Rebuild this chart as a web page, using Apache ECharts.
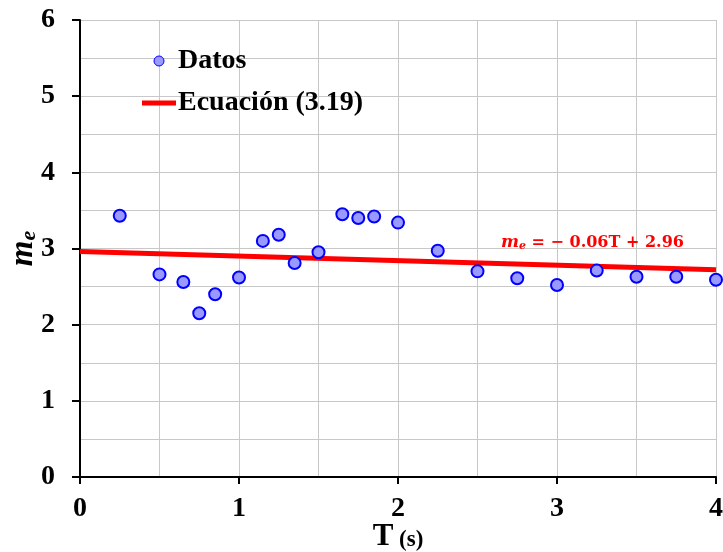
<!DOCTYPE html>
<html>
<head>
<meta charset="utf-8">
<script src="https://cdn.jsdelivr.net/npm/echarts@6/dist/echarts.min.js"></script>
<style>html,body{margin:0;padding:0;background:#fff}#c{width:723px;height:552px}</style>
</head>
<body>
<div id="c"></div>
<script>
var periodT = [0.25,0.5,0.65,0.75,0.85,1.0,1.15,1.25,1.35,1.5,1.65,1.75,1.85,2.0,2.25,2.5,2.75,3.0,3.25,3.5,3.75,4.0];
var meValues = [3.43,2.66,2.56,2.15,2.40,2.62,3.10,3.18,2.81,2.95,3.45,3.40,3.42,3.34,2.97,2.70,2.61,2.52,2.71,2.63,2.63,2.59];
var fitSlope = -0.06;
var fitIntercept = 2.96;
var fitT = [0, 4];
var xTicks = [0,1,2,3,4];
var yTicks = [0,1,2,3,4,5,6];

var scatterData = periodT.map(function(t,i){return [t, meValues[i]];});
var lineData = fitT.map(function(t){return [t, +(fitIntercept + fitSlope*t).toFixed(4)];});

var serif = '"Liberation Serif","Times New Roman",serif';
var chart = echarts.init(document.getElementById('c'));
chart.setOption({
  animation: false,
  grid: {left: 80, right: 7, top: 20, bottom: 75, outerBoundsMode: 'none', containLabel: false},
  legend: {
    left: 137, top: 42, orient: 'vertical', itemGap: 14,
    itemWidth: 34, itemHeight: 10, symbolKeepAspect: true,
    textStyle: {fontFamily: serif, fontWeight: 'bold', fontSize: 28, color: '#000', padding: [0,0,0,-3]},
    data: [
      {name: 'Datos', icon: 'circle', itemStyle: {color: '#9999ff', borderColor: '#0000ff', borderWidth: 1}},
      {name: 'Ecuación (3.19)', icon: 'path://M0,0h34v5h-34z', itemStyle: {color: '#ff0000', borderWidth: 0}}
    ]
  },
  xAxis: {
    type: 'value', min: 0, max: 4, interval: 1,
    axisLine: {onZero: false, lineStyle: {color: '#000', width: 2}},
    axisTick: {show: true, length: 7, lineStyle: {color: '#000', width: 2}},
    axisLabel: {fontFamily: serif, fontWeight: 'bold', fontSize: 28, color: '#000', margin: 18, showMaxLabel: true, showMinLabel: true},
    splitLine: {show: true, lineStyle: {color: '#c8c8c8', width: 1}},
    minorTick: {show: false, splitNumber: 2},
    minorSplitLine: {show: true, lineStyle: {color: '#c8c8c8', width: 1}},
    name: '{a|T}{b| (s)}', nameLocation: 'middle', nameGap: 44, nameMoveOverlap: false,
    nameTextStyle: {rich: {
      a: {fontFamily: serif, fontWeight: 'bold', fontSize: 31, color: '#000', verticalAlign: 'bottom'},
      b: {fontFamily: serif, fontWeight: 'bold', fontSize: 23, color: '#000', verticalAlign: 'bottom'}
    }}
  },
  yAxis: {
    type: 'value', min: 0, max: 6, interval: 1,
    axisLine: {show: true, onZero: false, lineStyle: {color: '#000', width: 2}},
    axisTick: {show: true, length: 8, lineStyle: {color: '#000', width: 2}},
    axisLabel: {fontFamily: serif, fontWeight: 'bold', fontSize: 28, color: '#000', margin: 25},
    splitLine: {show: true, lineStyle: {color: '#c8c8c8', width: 1}},
    minorTick: {show: false, splitNumber: 2},
    minorSplitLine: {show: true, lineStyle: {color: '#c8c8c8', width: 1}},
    name: '{a|m}{b|e}', nameLocation: 'middle', nameGap: 40, nameMoveOverlap: false,
    nameTextStyle: {rich: {
      a: {fontFamily: serif, fontWeight: 'bold', fontStyle: 'italic', fontSize: 33, color: '#000'},
      b: {fontFamily: serif, fontWeight: 'bold', fontStyle: 'italic', fontSize: 22, color: '#000', verticalAlign: 'bottom', padding: [12,0,0,0]}
    }}
  },
  series: [
    {
      name: 'Ecuación (3.19)', type: 'line', data: lineData, symbol: 'none', showSymbol: false,
      lineStyle: {color: '#ff0000', width: 5}, itemStyle: {color: '#ff0000'}, z: 2
    },
    {
      name: 'Datos', type: 'scatter', data: scatterData, symbol: 'circle', symbolSize: 12, clip: false,
      itemStyle: {color: '#9999ff', borderColor: '#0000ff', borderWidth: 2, opacity: 1}, z: 3
    }
  ],
  graphic: [{
    type: 'text', left: 501, top: 234, z: 10,
    style: {
      text: '{m|m}{e|e}{t| = − 0.06T + 2.96}',
      rich: {
        m: {fontFamily: '"DejaVu Serif",serif', fontWeight: 'bold', fontStyle: 'italic', fontSize: 17, fill: '#ff0000'},
        e: {fontFamily: '"DejaVu Serif",serif', fontWeight: 'bold', fontStyle: 'italic', fontSize: 11, fill: '#ff0000', verticalAlign: 'bottom', padding: [8,0,0,0]},
        t: {fontFamily: '"DejaVu Serif",serif', fontWeight: 'bold', fontSize: 16, fill: '#ff0000'}
      }
    }
  }]
});
</script>
</body>
</html>
